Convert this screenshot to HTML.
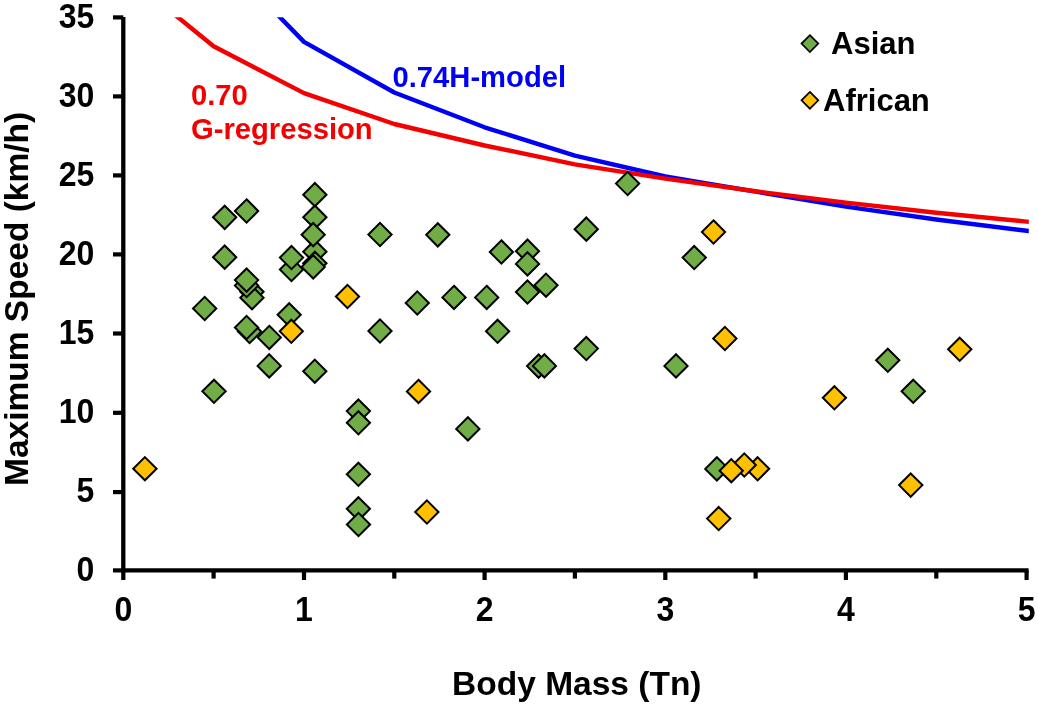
<!DOCTYPE html>
<html lang="en"><head><meta charset="utf-8"><title>Maximum Speed vs Body Mass</title>
<style>
html,body{margin:0;padding:0;background:#fff;}
body{width:1038px;height:710px;overflow:hidden;}
svg{display:block;}
text{font-family:"Liberation Sans",sans-serif;font-weight:bold;}
.tick{font-size:32px;fill:#000;}
.ttl{font-size:33.5px;fill:#000;}
.leg{font-size:31px;fill:#000;}
.ann{font-size:29.2px;}
</style></head><body>
<svg width="1038" height="710" viewBox="0 0 1038 710">
<rect width="1038" height="710" fill="#fff"/>
<defs><clipPath id="plot"><rect x="123.3" y="17.3" width="905.5" height="553.1"/></clipPath></defs>

<polyline points="270.0,7.0 304.0,41.9 394.3,92.5 484.6,127.3 574.9,155.6 665.3,176.5 755.6,191.6 845.9,206.6 936.3,219.5 1026.6,230.8 1035.0,231.8" fill="none" stroke="#0000f4" stroke-width="4.4" stroke-linejoin="round" clip-path="url(#plot)"/>
<polyline points="166.0,7.6 213.6,46.2 304.0,93.1 394.3,124.0 484.6,145.5 574.9,164.3 665.3,178.7 755.6,191.3 845.9,202.6 936.3,212.8 1026.6,221.6 1035.0,222.4" fill="none" stroke="#f40000" stroke-width="4.4" stroke-linejoin="round" clip-path="url(#plot)"/>
<g stroke="#000" stroke-width="4.3" fill="none">
<path d="M123.3 16.9V572.4"/>
<path d="M121.3 570.4H1028.6"/>
</g>
<g stroke="#000" stroke-width="4.2" fill="none">
<path d="M113.0 570.4H123.3"/>
<path d="M113.0 492.1H123.3"/>
<path d="M113.0 412.8H123.3"/>
<path d="M113.0 333.5H123.3"/>
<path d="M113.0 254.4H123.3"/>
<path d="M113.0 175.4H123.3"/>
<path d="M113.0 96.4H123.3"/>
<path d="M113.0 17.4H123.3"/>
<path d="M123.3 570.4V580.0"/>
<path d="M213.6 570.4V578.6"/>
<path d="M304.0 570.4V580.0"/>
<path d="M394.3 570.4V578.6"/>
<path d="M484.6 570.4V580.0"/>
<path d="M574.9 570.4V578.6"/>
<path d="M665.3 570.4V580.0"/>
<path d="M755.6 570.4V578.6"/>
<path d="M845.9 570.4V580.0"/>
<path d="M936.3 570.4V578.6"/>
<path d="M1026.6 570.4V580.0"/>
</g>
<g class="tick" text-anchor="end">
<text transform="translate(94.3 580.65) scale(1 1.07)">0</text>
<text transform="translate(94.3 502.35) scale(1 1.07)">5</text>
<text transform="translate(94.3 423.05) scale(1 1.07)">10</text>
<text transform="translate(94.3 343.75) scale(1 1.07)">15</text>
<text transform="translate(94.3 264.65) scale(1 1.07)">20</text>
<text transform="translate(94.3 185.65) scale(1 1.07)">25</text>
<text transform="translate(94.3 106.65) scale(1 1.07)">30</text>
<text transform="translate(94.3 27.65) scale(1 1.07)">35</text>
</g>
<g class="tick" text-anchor="middle">
<text transform="translate(123.3 620.75) scale(1 1.07)">0</text>
<text transform="translate(304.0 620.75) scale(1 1.07)">1</text>
<text transform="translate(484.6 620.75) scale(1 1.07)">2</text>
<text transform="translate(665.3 620.75) scale(1 1.07)">3</text>
<text transform="translate(845.9 620.75) scale(1 1.07)">4</text>
<text transform="translate(1026.6 620.75) scale(1 1.07)">5</text>
</g>
<text class="ttl" text-anchor="middle" x="576.8" y="694.5">Body Mass (Tn)</text>
<text class="ttl" text-anchor="middle" transform="translate(27.8 298.9) rotate(-90)">Maximum Speed (km/h)</text>
<text class="ann" fill="#f40000" x="191" y="104.7">0.70</text>
<text class="ann" fill="#f40000" x="191" y="139.0">G-regression</text>
<text class="ann" fill="#0000f4" x="392.5" y="87.0">0.74H-model</text>
<g>
<path d="M314.9 205.5L326.5 217.2L314.9 228.8L303.2 217.2Z" fill="#70ad47" stroke="#000" stroke-width="2.0" stroke-linejoin="miter"/>
<path d="M314.9 183.0L326.5 194.7L314.9 206.3L303.2 194.7Z" fill="#70ad47" stroke="#000" stroke-width="2.0" stroke-linejoin="miter"/>
<path d="M314.9 240.0L326.5 251.7L314.9 263.3L303.2 251.7Z" fill="#70ad47" stroke="#000" stroke-width="2.0" stroke-linejoin="miter"/>
<path d="M314.9 251.7L326.5 263.3L314.9 274.9L303.2 263.3Z" fill="#70ad47" stroke="#000" stroke-width="2.0" stroke-linejoin="miter"/>
<path d="M291.5 257.9L303.1 269.5L291.5 281.1L279.9 269.5Z" fill="#70ad47" stroke="#000" stroke-width="2.0" stroke-linejoin="miter"/>
<path d="M291.5 246.0L303.1 257.6L291.5 269.2L279.9 257.6Z" fill="#70ad47" stroke="#000" stroke-width="2.0" stroke-linejoin="miter"/>
<path d="M313.2 223.0L324.8 234.7L313.2 246.3L301.6 234.7Z" fill="#70ad47" stroke="#000" stroke-width="2.0" stroke-linejoin="miter"/>
<path d="M313.2 255.2L324.8 266.9L313.2 278.5L301.6 266.9Z" fill="#70ad47" stroke="#000" stroke-width="2.0" stroke-linejoin="miter"/>
<path d="M224.7 205.7L236.3 217.3L224.7 229.0L213.0 217.3Z" fill="#70ad47" stroke="#000" stroke-width="2.0" stroke-linejoin="miter"/>
<path d="M246.6 199.3L258.2 211.0L246.6 222.7L234.9 211.0Z" fill="#70ad47" stroke="#000" stroke-width="2.0" stroke-linejoin="miter"/>
<path d="M224.7 245.5L236.3 257.2L224.7 268.8L213.0 257.2Z" fill="#70ad47" stroke="#000" stroke-width="2.0" stroke-linejoin="miter"/>
<path d="M252.0 280.2L263.6 291.8L252.0 303.4L240.3 291.8Z" fill="#70ad47" stroke="#000" stroke-width="2.0" stroke-linejoin="miter"/>
<path d="M252.0 286.1L263.6 297.7L252.0 309.3L240.3 297.7Z" fill="#70ad47" stroke="#000" stroke-width="2.0" stroke-linejoin="miter"/>
<path d="M246.6 274.0L258.2 285.6L246.6 297.2L234.9 285.6Z" fill="#70ad47" stroke="#000" stroke-width="2.0" stroke-linejoin="miter"/>
<path d="M246.6 268.5L258.2 280.1L246.6 291.8L234.9 280.1Z" fill="#70ad47" stroke="#000" stroke-width="2.0" stroke-linejoin="miter"/>
<path d="M204.7 296.9L216.3 308.5L204.7 320.1L193.0 308.5Z" fill="#70ad47" stroke="#000" stroke-width="2.0" stroke-linejoin="miter"/>
<path d="M249.6 320.0L261.2 331.6L249.6 343.2L237.9 331.6Z" fill="#70ad47" stroke="#000" stroke-width="2.0" stroke-linejoin="miter"/>
<path d="M246.6 315.9L258.2 327.5L246.6 339.1L234.9 327.5Z" fill="#70ad47" stroke="#000" stroke-width="2.0" stroke-linejoin="miter"/>
<path d="M269.3 325.8L280.9 337.4L269.3 349.0L257.7 337.4Z" fill="#70ad47" stroke="#000" stroke-width="2.0" stroke-linejoin="miter"/>
<path d="M289.2 303.2L300.8 314.8L289.2 326.4L277.6 314.8Z" fill="#70ad47" stroke="#000" stroke-width="2.0" stroke-linejoin="miter"/>
<path d="M380.0 222.9L391.6 234.6L380.0 246.2L368.4 234.6Z" fill="#70ad47" stroke="#000" stroke-width="2.0" stroke-linejoin="miter"/>
<path d="M380.0 319.4L391.6 331.0L380.0 342.6L368.4 331.0Z" fill="#70ad47" stroke="#000" stroke-width="2.0" stroke-linejoin="miter"/>
<path d="M417.3 291.4L428.9 303.0L417.3 314.6L405.7 303.0Z" fill="#70ad47" stroke="#000" stroke-width="2.0" stroke-linejoin="miter"/>
<path d="M269.2 354.2L280.8 365.9L269.2 377.5L257.6 365.9Z" fill="#70ad47" stroke="#000" stroke-width="2.0" stroke-linejoin="miter"/>
<path d="M314.8 359.6L326.4 371.2L314.8 382.8L303.2 371.2Z" fill="#70ad47" stroke="#000" stroke-width="2.0" stroke-linejoin="miter"/>
<path d="M214.0 379.7L225.7 391.3L214.0 402.9L202.3 391.3Z" fill="#70ad47" stroke="#000" stroke-width="2.0" stroke-linejoin="miter"/>
<path d="M358.4 399.5L370.0 411.1L358.4 422.8L346.8 411.1Z" fill="#70ad47" stroke="#000" stroke-width="2.0" stroke-linejoin="miter"/>
<path d="M358.4 411.2L370.0 422.8L358.4 434.4L346.8 422.8Z" fill="#70ad47" stroke="#000" stroke-width="2.0" stroke-linejoin="miter"/>
<path d="M358.4 462.7L370.0 474.3L358.4 485.9L346.8 474.3Z" fill="#70ad47" stroke="#000" stroke-width="2.0" stroke-linejoin="miter"/>
<path d="M358.4 497.2L370.0 508.8L358.4 520.5L346.8 508.8Z" fill="#70ad47" stroke="#000" stroke-width="2.0" stroke-linejoin="miter"/>
<path d="M358.5 512.9L370.1 524.5L358.5 536.1L346.9 524.5Z" fill="#70ad47" stroke="#000" stroke-width="2.0" stroke-linejoin="miter"/>
<path d="M467.9 417.2L479.5 428.9L467.9 440.5L456.2 428.9Z" fill="#70ad47" stroke="#000" stroke-width="2.0" stroke-linejoin="miter"/>
<path d="M627.6 171.9L639.2 183.6L627.6 195.2L616.0 183.6Z" fill="#70ad47" stroke="#000" stroke-width="2.0" stroke-linejoin="miter"/>
<path d="M586.3 217.5L597.9 229.2L586.3 240.8L574.6 229.2Z" fill="#70ad47" stroke="#000" stroke-width="2.0" stroke-linejoin="miter"/>
<path d="M437.8 223.2L449.4 234.8L437.8 246.5L426.2 234.8Z" fill="#70ad47" stroke="#000" stroke-width="2.0" stroke-linejoin="miter"/>
<path d="M501.4 240.3L513.0 252.0L501.4 263.6L489.8 252.0Z" fill="#70ad47" stroke="#000" stroke-width="2.0" stroke-linejoin="miter"/>
<path d="M527.5 239.5L539.1 251.2L527.5 262.8L515.9 251.2Z" fill="#70ad47" stroke="#000" stroke-width="2.0" stroke-linejoin="miter"/>
<path d="M527.5 252.2L539.1 263.9L527.5 275.5L515.9 263.9Z" fill="#70ad47" stroke="#000" stroke-width="2.0" stroke-linejoin="miter"/>
<path d="M546.0 273.6L557.6 285.2L546.0 296.8L534.4 285.2Z" fill="#70ad47" stroke="#000" stroke-width="2.0" stroke-linejoin="miter"/>
<path d="M527.5 280.4L539.1 292.0L527.5 303.6L515.9 292.0Z" fill="#70ad47" stroke="#000" stroke-width="2.0" stroke-linejoin="miter"/>
<path d="M486.7 285.8L498.3 297.4L486.7 309.0L475.1 297.4Z" fill="#70ad47" stroke="#000" stroke-width="2.0" stroke-linejoin="miter"/>
<path d="M454.0 285.8L465.6 297.4L454.0 309.0L442.4 297.4Z" fill="#70ad47" stroke="#000" stroke-width="2.0" stroke-linejoin="miter"/>
<path d="M497.6 319.7L509.2 331.3L497.6 342.9L486.0 331.3Z" fill="#70ad47" stroke="#000" stroke-width="2.0" stroke-linejoin="miter"/>
<path d="M586.3 337.0L597.9 348.6L586.3 360.2L574.6 348.6Z" fill="#70ad47" stroke="#000" stroke-width="2.0" stroke-linejoin="miter"/>
<path d="M538.6 354.5L550.2 366.1L538.6 377.8L527.0 366.1Z" fill="#70ad47" stroke="#000" stroke-width="2.0" stroke-linejoin="miter"/>
<path d="M544.4 354.2L556.0 365.9L544.4 377.5L532.8 365.9Z" fill="#70ad47" stroke="#000" stroke-width="2.0" stroke-linejoin="miter"/>
<path d="M694.2 246.0L705.9 257.6L694.2 269.2L682.6 257.6Z" fill="#70ad47" stroke="#000" stroke-width="2.0" stroke-linejoin="miter"/>
<path d="M676.0 354.2L687.6 365.9L676.0 377.5L664.4 365.9Z" fill="#70ad47" stroke="#000" stroke-width="2.0" stroke-linejoin="miter"/>
<path d="M887.8 348.7L899.4 360.3L887.8 371.9L876.1 360.3Z" fill="#70ad47" stroke="#000" stroke-width="2.0" stroke-linejoin="miter"/>
<path d="M913.2 379.7L924.9 391.3L913.2 402.9L901.6 391.3Z" fill="#70ad47" stroke="#000" stroke-width="2.0" stroke-linejoin="miter"/>
<path d="M716.9 457.2L728.5 468.9L716.9 480.5L705.2 468.9Z" fill="#70ad47" stroke="#000" stroke-width="2.0" stroke-linejoin="miter"/>
<path d="M291.3 319.7L302.9 331.3L291.3 342.9L279.7 331.3Z" fill="#ffc000" stroke="#000" stroke-width="2.0" stroke-linejoin="miter"/>
<path d="M347.5 284.9L359.1 296.5L347.5 308.1L335.9 296.5Z" fill="#ffc000" stroke="#000" stroke-width="2.0" stroke-linejoin="miter"/>
<path d="M144.9 457.1L156.6 468.7L144.9 480.3L133.2 468.7Z" fill="#ffc000" stroke="#000" stroke-width="2.0" stroke-linejoin="miter"/>
<path d="M426.9 500.4L438.5 512.0L426.9 523.6L415.2 512.0Z" fill="#ffc000" stroke="#000" stroke-width="2.0" stroke-linejoin="miter"/>
<path d="M418.5 379.8L430.1 391.4L418.5 403.0L406.9 391.4Z" fill="#ffc000" stroke="#000" stroke-width="2.0" stroke-linejoin="miter"/>
<path d="M713.5 220.3L725.1 232.0L713.5 243.7L701.9 232.0Z" fill="#ffc000" stroke="#000" stroke-width="2.0" stroke-linejoin="miter"/>
<path d="M724.9 326.9L736.5 338.5L724.9 350.1L713.2 338.5Z" fill="#ffc000" stroke="#000" stroke-width="2.0" stroke-linejoin="miter"/>
<path d="M834.4 386.2L846.0 397.8L834.4 409.4L822.8 397.8Z" fill="#ffc000" stroke="#000" stroke-width="2.0" stroke-linejoin="miter"/>
<path d="M757.6 457.2L769.2 468.8L757.6 480.4L746.0 468.8Z" fill="#ffc000" stroke="#000" stroke-width="2.0" stroke-linejoin="miter"/>
<path d="M744.3 453.4L755.9 465.0L744.3 476.6L732.6 465.0Z" fill="#ffc000" stroke="#000" stroke-width="2.0" stroke-linejoin="miter"/>
<path d="M731.3 459.1L742.9 470.7L731.3 482.3L719.6 470.7Z" fill="#ffc000" stroke="#000" stroke-width="2.0" stroke-linejoin="miter"/>
<path d="M718.7 507.0L730.4 518.6L718.7 530.2L707.1 518.6Z" fill="#ffc000" stroke="#000" stroke-width="2.0" stroke-linejoin="miter"/>
<path d="M959.7 337.7L971.4 349.3L959.7 360.9L948.1 349.3Z" fill="#ffc000" stroke="#000" stroke-width="2.0" stroke-linejoin="miter"/>
<path d="M910.7 473.5L922.4 485.1L910.7 496.8L899.1 485.1Z" fill="#ffc000" stroke="#000" stroke-width="2.0" stroke-linejoin="miter"/>
</g>
<path d="M809.9 35.2L818.3 43.6L809.9 52.0L801.5 43.6Z" fill="#70ad47" stroke="#000" stroke-width="1.7" stroke-linejoin="miter"/>
<path d="M809.9 91.9L818.3 100.3L809.9 108.7L801.5 100.3Z" fill="#ffc000" stroke="#000" stroke-width="1.7" stroke-linejoin="miter"/>
<text class="leg" x="831" y="53.8">Asian</text>
<text class="leg" x="823" y="110.7">African</text>
</svg></body></html>
